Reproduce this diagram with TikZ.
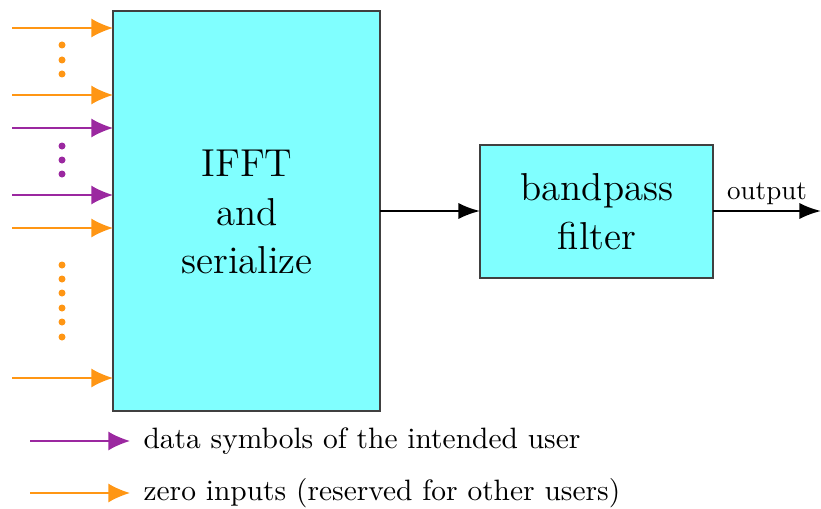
\documentclass[tikz,border=0pt]{standalone}
\usepackage{tikz}
\usetikzlibrary{arrows.meta}

\definecolor{zeroin}{RGB}{255,150,20}
\definecolor{datain}{RGB}{155,40,160}
\definecolor{boxfill}{RGB}{128,255,255}
\tikzset{
  blockbox/.style={draw=black!75,fill=boxfill,thick},
  inarrow/.style={-{Latex[length=8pt,width=7pt]},semithick},
  sigarrow/.style={-{Latex[length=8pt,width=6pt]},thick},
  legtext/.style={right,inner sep=0pt,font=\fontsize{10.9}{13}\selectfont}
}

\begin{document}
\begin{tikzpicture}[x=0.013cm,y=-0.013cm]
  \useasboundingbox (0,0) rectangle (821,508);
  % blocks
  \draw[blockbox] (113,11) rectangle (380,411);
  \node[align=center,font=\Large] (ifft) at (247,212) {IFFT\\and\\serialize};
  \coordinate (ifftout) at (380,211);
  \draw[blockbox] (480,145) rectangle (713,278);
  \node[align=center,font=\Large] (bpf) at (597,212) {bandpass\\filter};
  \coordinate (bpfin) at (480,211);
  \coordinate (bpfout) at (713,211);
  \coordinate (out) at (821,211);
  \draw[sigarrow] (ifftout) -- (bpfin);
  \draw[sigarrow] (bpfout) -- node[above,inner sep=2pt] (outlbl) {output} (out);
  % inputs
  \foreach \y in {28,95,228,378}
    \draw[inarrow,zeroin] (12,\y) -- (113,\y);
  \foreach \y in {128,195}
    \draw[inarrow,datain] (12,\y) -- (113,\y);
  \foreach \y in {45,60,74,265,279,293,308,322,337}
    \fill[zeroin] (62,\y) circle [radius=3.5];
  \foreach \y in {146,160,174}
    \fill[datain] (62,\y) circle [radius=3.5];
  % legend
  \coordinate (lega) at (30,441);
  \coordinate (legb) at (30,493);
  \node[legtext] (datatxt) at (143,441) {data symbols of the intended user};
  \node[legtext] (zerotxt) at (143,493) {zero inputs (reserved for other users)};
  \draw[inarrow,datain] (lega) -- ++(100,0);
  \draw[inarrow,zeroin] (legb) -- ++(100,0);
\end{tikzpicture}
\end{document}
